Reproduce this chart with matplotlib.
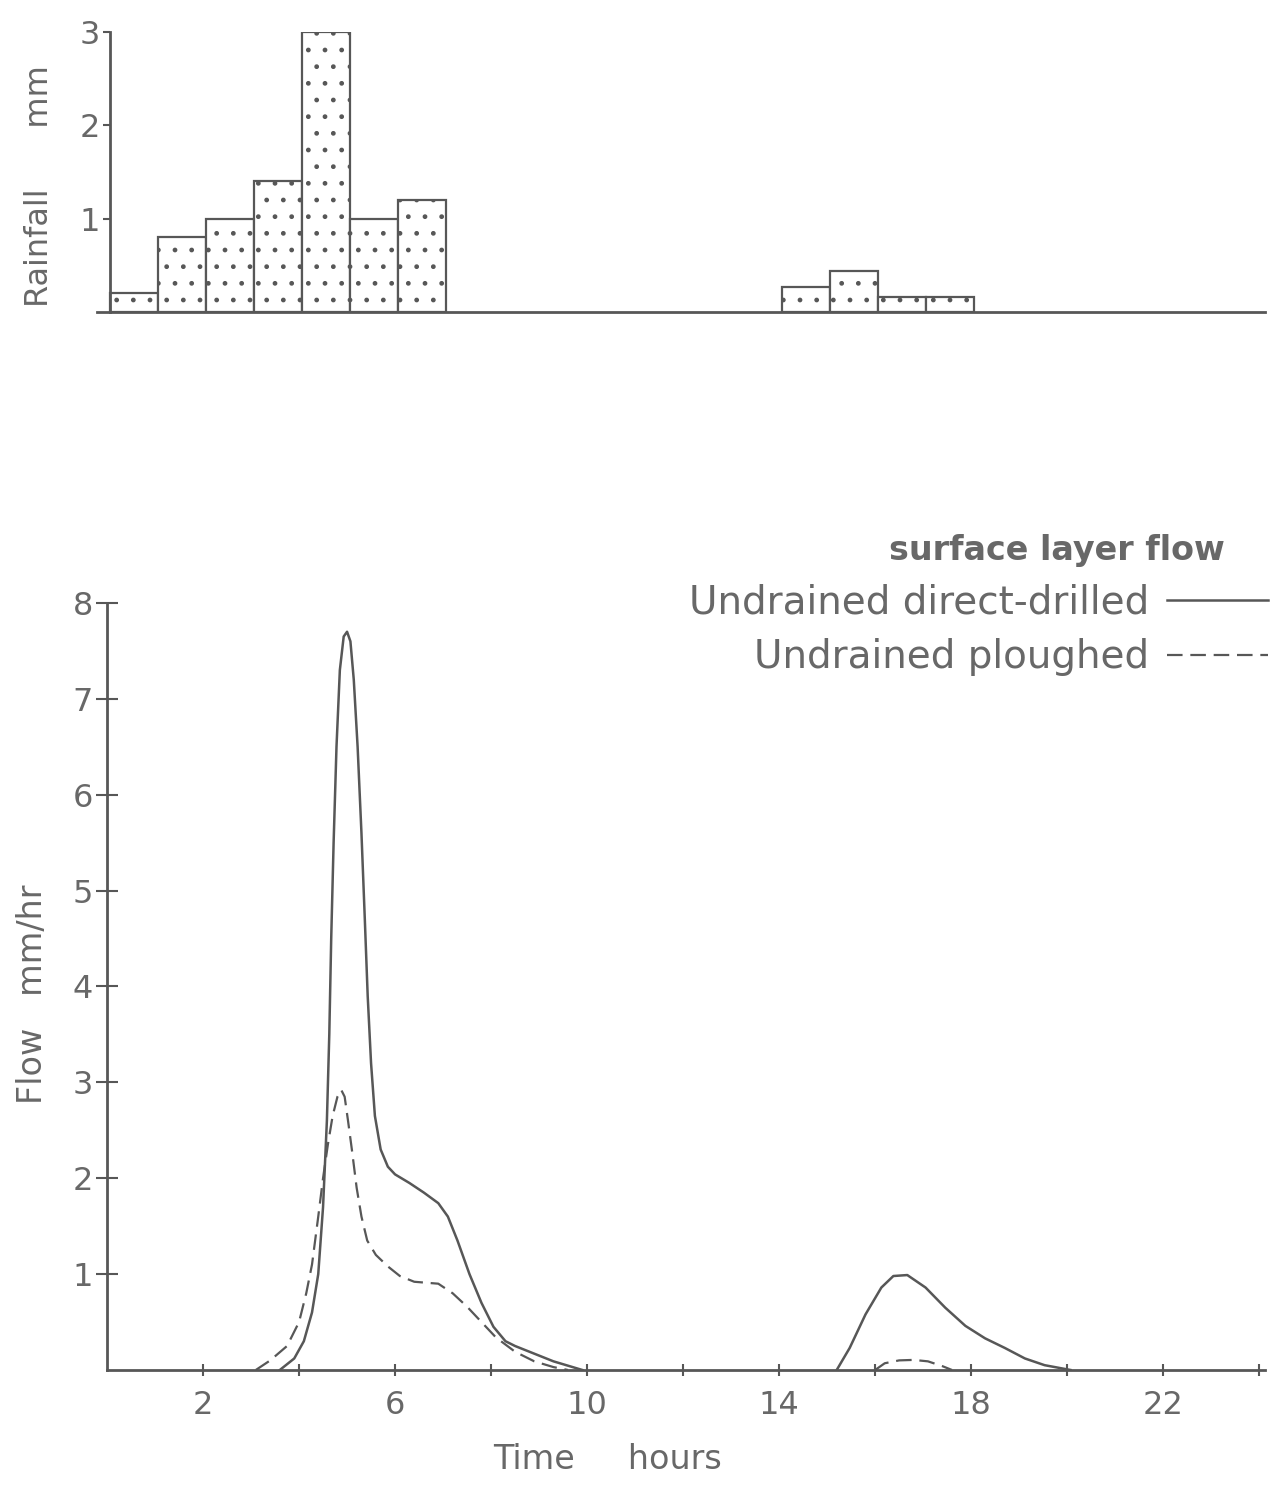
import numpy as np
from matplotlib import pyplot as plt

# hourly rainfall blocks (start hour, depth mm)
rainStart = [0, 1, 2, 3, 4, 5, 6, 14, 15, 16, 17]
rainDepth = [0.2, 0.8, 1.0, 1.4, 3.0, 1.0, 1.2, 0.27, 0.44, 0.16, 0.16]

# surface layer flow, undrained direct-drilled plot
ddTime = [3.6, 3.9, 4.1, 4.27, 4.4, 4.5, 4.58, 4.63, 4.67, 4.72, 4.78, 4.85, 4.93, 5.0,
          5.07, 5.14, 5.22, 5.3, 5.37, 5.43, 5.5, 5.58, 5.7, 5.85, 6.0, 6.3, 6.6, 6.9,
          7.1, 7.3, 7.55, 7.8, 8.05, 8.3, 8.5, 8.9, 9.3, 9.9, np.nan,
          15.2, 15.47, 15.8, 16.13, 16.38, 16.67, 17.05, 17.46, 17.88, 18.29, 18.7,
          19.12, 19.53, 20.07]
ddFlow = [0.0, 0.12, 0.3, 0.6, 1.0, 1.7, 2.6, 3.5, 4.5, 5.5, 6.5, 7.3, 7.65, 7.7,
          7.6, 7.2, 6.5, 5.6, 4.7, 3.9, 3.2, 2.65, 2.3, 2.12, 2.04, 1.95, 1.85, 1.74,
          1.6, 1.35, 1.0, 0.7, 0.45, 0.3, 0.25, 0.17, 0.09, 0.0, np.nan,
          0.0, 0.23, 0.58, 0.86, 0.98, 0.99, 0.86, 0.65, 0.46, 0.33, 0.23,
          0.12, 0.05, 0.0]

# surface layer flow, undrained ploughed plot
plTime = [3.1, 3.4, 3.75, 4.0, 4.15, 4.27, 4.4, 4.5, 4.6, 4.7, 4.8, 4.88, 4.95, 5.02,
          5.1, 5.2, 5.3, 5.42, 5.6, 5.85, 6.1, 6.4, 6.9, 7.2, 7.5, 7.8, 8.1, 8.5, 8.9,
          9.3, 9.6, np.nan,
          16.0, 16.2, 16.5, 16.8, 17.1, 17.4, 17.6]
plFlow = [0.0, 0.1, 0.25, 0.5, 0.8, 1.1, 1.6, 2.0, 2.35, 2.65, 2.85, 2.92, 2.85, 2.6,
          2.3, 1.9, 1.6, 1.35, 1.2, 1.08, 0.98, 0.92, 0.9, 0.8, 0.66, 0.5, 0.34, 0.19, 0.09,
          0.03, 0.0, np.nan,
          0.0, 0.07, 0.1, 0.105, 0.09, 0.04, 0.0]

flowTicks = [2, 6, 10, 14, 18, 22]
flowMinorTicks = [4, 8, 12, 16, 20, 24]

lnCol = '#575757'
txCol = '#686868'
plt.rcParams['font.family'] = 'DejaVu Sans'
plt.rcParams['hatch.linewidth'] = 1.0

fg = plt.figure(figsize=(12.74, 14.87), dpi=100)

# rainfall histogram
ax = fg.add_axes([0.0761, 0.7902, 0.9168, 0.1883])
ax.bar(rainStart, rainDepth, width=1.0, align='edge', facecolor='white',
       edgecolor=lnCol, linewidth=1.6, hatch='.')
ax.set_xlim(-0.27, 24.06)
ax.set_ylim(0, 3)
for s in ['top', 'right']:
  ax.spines[s].set_visible(False)
ax.spines['left'].set_position(('data', 0))
ax.spines['left'].set_color(lnCol)
ax.spines['left'].set_linewidth(2)
ax.spines['bottom'].set_color(lnCol)
ax.spines['bottom'].set_linewidth(2)
ax.set_xticks([])
ax.set_yticks([1, 2, 3])
ax.tick_params(axis='y', direction='out', length=5, width=1.5, color=lnCol,
               labelsize=23, labelcolor=txCol, pad=2)
ax.set_ylabel('Rainfall      mm', fontsize=23, color=txCol)
ax.yaxis.set_label_coords(-0.036, 0.45)

# flow hydrographs
ax = fg.add_axes([0.0840, 0.0787, 0.9089, 0.5158])
ax.plot(ddTime, ddFlow, color=lnCol, linewidth=1.8, label='Undrained direct-drilled')
ax.plot(plTime, plFlow, color=lnCol, linewidth=1.6, linestyle=(0, (7, 3.5)),
        label='Undrained ploughed')
ax.set_xlim(0, 24.12)
ax.set_ylim(0, 8)
for s in ['top', 'right']:
  ax.spines[s].set_visible(False)
for s in ['left', 'bottom']:
  ax.spines[s].set_color(lnCol)
  ax.spines[s].set_linewidth(2)
ax.set_xticks(flowTicks)
ax.set_xticks(flowMinorTicks, minor=True)
ax.set_yticks(range(1, 9))
ax.tick_params(axis='x', which='both', direction='inout', length=9, width=1.5,
               color=lnCol, labelsize=23, labelcolor=txCol, pad=10)
ax.tick_params(axis='y', direction='inout', length=16, width=1.5, color=lnCol,
               labelsize=23, labelcolor=txCol, pad=2)
ax.set_ylabel('Flow   mm/hr', fontsize=24, color=txCol)
ax.yaxis.set_label_coords(-0.050, 0.49)
ax.set_xlabel('Time     hours', fontsize=24, color=txCol)
ax.xaxis.set_label_coords(0.432, -0.095)

lg = ax.legend(loc='upper right', bbox_to_anchor=(1268/1274., 1 - 584/1487.),
               bbox_transform=fg.transFigure, frameon=False, markerfirst=False,
               fontsize=28, handlelength=2.6, handletextpad=0.45, borderpad=0,
               borderaxespad=0, labelspacing=0.42)
for t in lg.get_texts():
  t.set_color(txCol)
fg.text(1225/1274., 1 - 550/1487., 'surface layer flow', fontsize=24, fontweight='bold',
        color=txCol, ha='right', va='center')

fg.savefig('out.png', dpi=100)
